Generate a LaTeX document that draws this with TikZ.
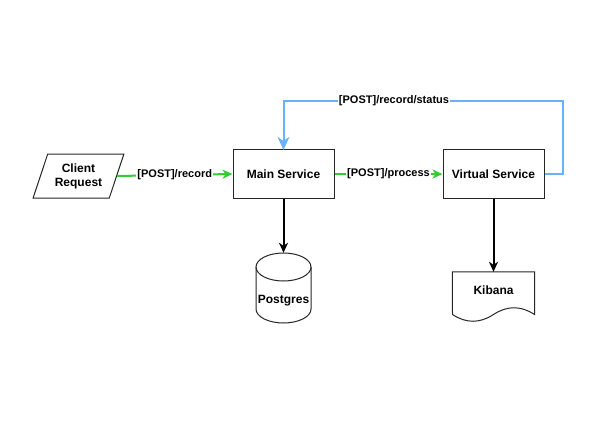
\documentclass[tikz,border=0pt]{standalone}
\usepackage{fontspec}
\setmainfont{Liberation Sans}
\usetikzlibrary{arrows.meta,shapes.geometric}
\definecolor{flowgreen}{HTML}{33CC33}
\definecolor{flowblue}{RGB}{102,178,255}
\tikzset{
  box/.style={draw=black!85, line width=1pt, rectangle, minimum width=101pt, minimum height=49pt, inner sep=0pt, font=\fontsize{12}{14}\selectfont\bfseries},
  ghost/.style={rectangle, inner sep=0pt},
  txt/.style={inner sep=0pt, font=\fontsize{12}{14}\selectfont\bfseries, align=center},
  elabel/.style={fill=white, inner sep=1pt, font=\fontsize{11}{13}\selectfont\bfseries},
  headtip/.style={-{Stealth[length=10pt,width=9pt,inset=3pt]}},
  greenarrow/.style={headtip, draw=flowgreen, line width=2pt},
  blueline/.style={draw=flowblue, line width=2pt},
  bluehead/.style={draw=flowblue, fill=flowblue, line width=0.8pt, line join=miter},
  blackarrow/.style={headtip, draw=black, line width=2pt},
  outline/.style={draw=black!85, line width=1pt},
}
\begin{document}
\begin{tikzpicture}[x=1pt,y=-1pt]
\useasboundingbox (0,0) rectangle (593,423);
% client request parallelogram
\node[trapezium, trapezium left angle=66, trapezium right angle=114, trapezium stretches=true,
      minimum width=91pt, minimum height=44pt, inner sep=0pt, outline, txt] (client) at (78.5,176) {Client\\Request};
% main boxes
\node[box] (main) at (283.5,174) {Main Service};
\node[box] (virt) at (493.5,174) {Virtual Service};
% postgres cylinder
\node[ghost, minimum width=55pt, minimum height=70pt] (pg) at (283.5,288) {};
\draw[outline] (283.5,267) ellipse [x radius=27.5, y radius=14];
\draw[outline] (256,267) -- (256,309) arc[start angle=180, end angle=0, x radius=27.5, y radius=14] -- (311,267);
\node[txt] (pgtxt) at (283.5,301) {Postgres};
% kibana document
\node[ghost, minimum width=82pt, minimum height=50pt] (kib) at (493.5,297) {};
\draw[outline] (kib.north west) -- (kib.north east) -- (534.5,314.5)
  .. controls (520.83,305.5) and (507.17,305.5) .. (493.5,314.5)
  .. controls (479.83,323.5) and (466.17,323.5) .. (452.5,314.5) -- cycle;
\node[txt] (kibtxt) at (493.5,290) {Kibana};
% connectors
\coordinate (cr) at (117,176);
\draw[greenarrow] (cr) -- (main.west) node[elabel, pos=0.5] (l1) {[POST]/record};
\draw[greenarrow] (main.east) -- (virt.west) node[elabel, pos=0.5] (l2) {[POST]/process};
\coordinate (b1) at (563,174);
\coordinate (b2) at (563,101);
\coordinate (b3) at (283.5,101);
\coordinate (tipend) at (283.5,149);
\draw[blueline] (virt.east) -- (b1) -- (b2) -- (b3) -- (283.5,142);
\filldraw[bluehead] (tipend) -- (278.5,138) -- (283.5,141.5) -- (288.5,138) -- cycle;
\node[elabel] (l3) at (394,101) {[POST]/record/status};
\draw[blackarrow] (main.south) -- (pg.north);
\draw[blackarrow] (virt.south) -- (kib.north);
\end{tikzpicture}
\end{document}
